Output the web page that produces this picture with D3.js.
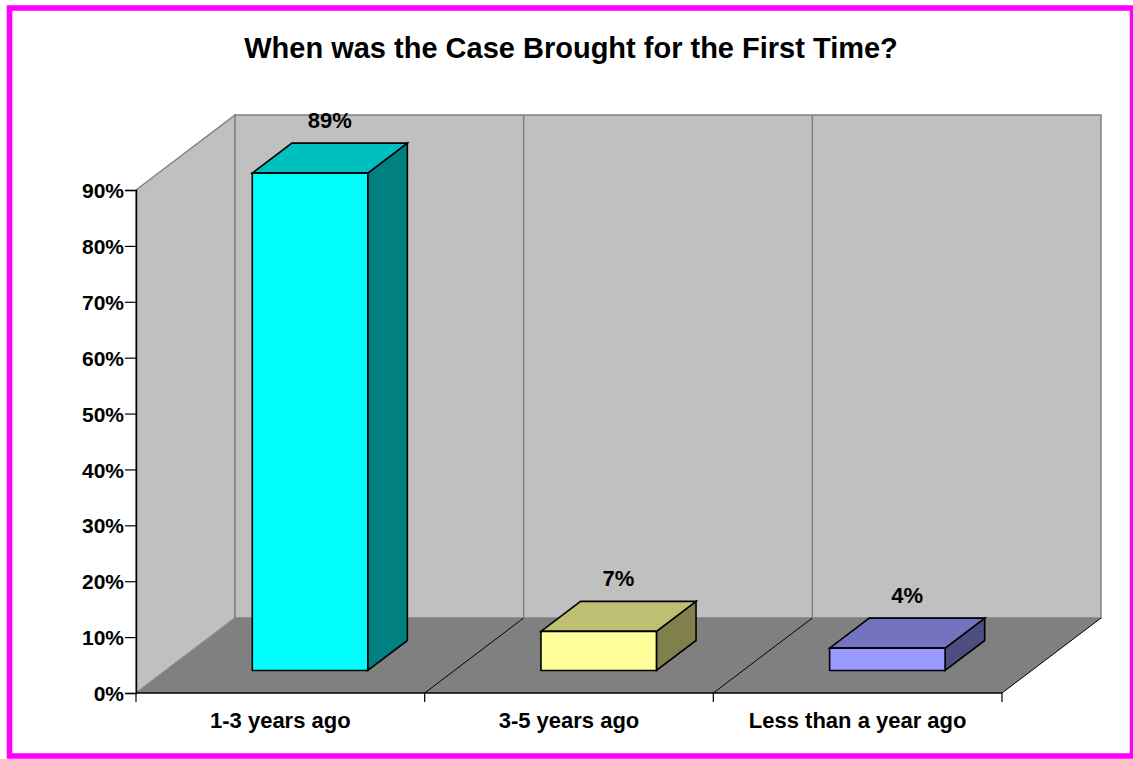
<!DOCTYPE html>
<html>
<head>
<meta charset="utf-8">
<script src="https://cdn.jsdelivr.net/npm/d3@7/dist/d3.min.js"></script>
<style>
  html, body { margin: 0; padding: 0; background: #fff; }
  svg { display: block; font-family: "Liberation Sans", Arial, sans-serif; }
</style>
</head>
<body>
<svg id="chart" width="1133" height="759"></svg>
<script>
// Survey answers: when the case was first brought
const categories = ["1-3 years ago", "3-5 years ago", "Less than a year ago"];
const values = [0.89, 0.07, 0.04];
const labels = ["89%", "7%", "4%"];
const yTicks = [0, 0.1, 0.2, 0.3, 0.4, 0.5, 0.6, 0.7, 0.8, 0.9];
const frontColors = ["#00FFFF", "#FFFF99", "#9999FF"];
const title = "When was the Case Brought for the First Time?";

const svg = d3.select("#chart");

// Outer frame
svg.append("rect")
  .attr("x", 9.5).attr("y", 8)
  .attr("width", 1123).attr("height", 748)
  .attr("fill", "#fff")
  .attr("stroke", "#FF00FF")
  .attr("stroke-width", 5.5);

svg.append("text")
  .attr("x", 571).attr("y", 58)
  .attr("text-anchor", "middle")
  .attr("font-size", 29).attr("font-weight", "bold")
  .text(title);

// Plot geometry (front plane) and oblique depth projection
const x = d3.scaleBand().domain(categories).range([136, 1002]);
const y = d3.scaleLinear().domain([0, 0.9]).range([693, 190]);
const DX = 99, DY = -75;
const P = (px, py, d) => [px + DX * d, py + DY * d];
const pts = arr => arr.map(p => p.join(",")).join(" ");

const x0 = x.range()[0], x1 = x.range()[1];
const yb = y(0), yt = y(0.9);

// Side wall
svg.append("polygon")
  .attr("points", pts([[x0, yb], [x0, yt], P(x0, yt, 1), P(x0, yb, 1)]))
  .attr("fill", "#C0C0C0").attr("stroke", "#808080").attr("stroke-width", 1.5);

// Back wall
svg.append("polygon")
  .attr("points", pts([P(x0, yt, 1), P(x1, yt, 1), P(x1, yb, 1), P(x0, yb, 1)]))
  .attr("fill", "#C0C0C0").attr("stroke", "#808080").attr("stroke-width", 1.5);

// Floor
svg.append("polygon")
  .attr("points", pts([[x0, yb], [x1, yb], P(x1, yb, 1), P(x0, yb, 1)]))
  .attr("fill", "#808080");
svg.append("line")
  .attr("x1", x0).attr("y1", yb)
  .attr("x2", P(x0, yb, 1)[0]).attr("y2", P(x0, yb, 1)[1])
  .attr("stroke", "#8c8c8c").attr("stroke-width", 1);
svg.append("line")
  .attr("x1", x1).attr("y1", yb)
  .attr("x2", P(x1, yb, 1)[0]).attr("y2", P(x1, yb, 1)[1])
  .attr("stroke", "#000").attr("stroke-width", 1);

// Category dividers on floor and back wall
const dividers = categories.slice(1).map(c => x(c));
dividers.forEach(dx => {
  const b = P(dx, yb, 1), t = P(dx, yt, 1);
  svg.append("line")
    .attr("x1", dx).attr("y1", yb).attr("x2", b[0]).attr("y2", b[1])
    .attr("stroke", "#000").attr("stroke-width", 1);
  svg.append("line")
    .attr("x1", b[0]).attr("y1", b[1]).attr("x2", t[0]).attr("y2", t[1])
    .attr("stroke", "#808080").attr("stroke-width", 1.5);
});

// Axes
const yAxis = d3.axisLeft(y).tickValues(yTicks).tickFormat(d3.format(".0%"))
  .tickSize(11).tickPadding(1);
const gy = svg.append("g").attr("transform", `translate(${x0},0)`).call(yAxis);
gy.select(".domain").attr("stroke", "#000").attr("stroke-width", 1.5);
gy.selectAll(".tick line").attr("stroke", "#000").attr("stroke-width", 1.2);
gy.selectAll(".tick text")
  .attr("font-family", "Liberation Sans, Arial, sans-serif")
  .attr("font-size", 21).attr("font-weight", "bold").attr("fill", "#000")
  .attr("dy", "0.36em");

const gx = svg.append("g");
gx.append("line").attr("x1", x0).attr("x2", x1).attr("y1", yb).attr("y2", yb)
  .attr("stroke", "#000").attr("stroke-width", 1.5);
const bounds = categories.map(c => x(c)).concat([x1]);
gx.selectAll("line.tk").data(bounds).enter().append("line")
  .attr("class", "tk")
  .attr("x1", d => d).attr("x2", d => d).attr("y1", yb).attr("y2", yb + 9)
  .attr("stroke", "#000").attr("stroke-width", 1.2);
gx.selectAll("text").data(categories).enter().append("text")
  .attr("x", d => x(d) + x.bandwidth() / 2)
  .attr("y", 728)
  .attr("text-anchor", "middle")
  .attr("font-size", 22).attr("font-weight", "bold")
  .text(d => d);

// 3D columns
const barFrac = 0.4, dFront = 0.3, dBack = 0.7;
const shade = (c, k) => { const r = d3.rgb(c); return d3.rgb(r.r * k, r.g * k, r.b * k).formatHex(); };

categories.forEach((c, i) => {
  const w = x.bandwidth() * barFrac;
  const cx = x(c) + x.bandwidth() / 2;
  const l = cx - w / 2, r = cx + w / 2;
  const top = y(values[i]);
  const fBL = P(l, yb, dFront), fBR = P(r, yb, dFront);
  const fTL = P(l, top, dFront), fTR = P(r, top, dFront);
  const bTL = P(l, top, dBack), bTR = P(r, top, dBack), bBR = P(r, yb, dBack);
  const g = svg.append("g").attr("stroke", "#000").attr("stroke-width", 1.6)
    .attr("stroke-linejoin", "miter");
  g.append("polygon").attr("points", pts([fBR, fTR, bTR, bBR]))
    .attr("fill", shade(frontColors[i], 0.5));
  g.append("polygon").attr("points", pts([fTL, fTR, bTR, bTL]))
    .attr("fill", shade(frontColors[i], 0.75));
  g.append("polygon").attr("points", pts([fBL, fTL, fTR, fBR]))
    .attr("fill", frontColors[i]);

  // value label above the middle of the top face
  const mid = P(cx, top, (dFront + dBack) / 2);
  const back = P(cx, top, dBack);
  svg.append("text")
    .attr("x", mid[0])
    .attr("y", back[1] - 15)
    .attr("text-anchor", "middle")
    .attr("font-size", 22).attr("font-weight", "bold")
    .text(labels[i]);
});
</script>
</body>
</html>
